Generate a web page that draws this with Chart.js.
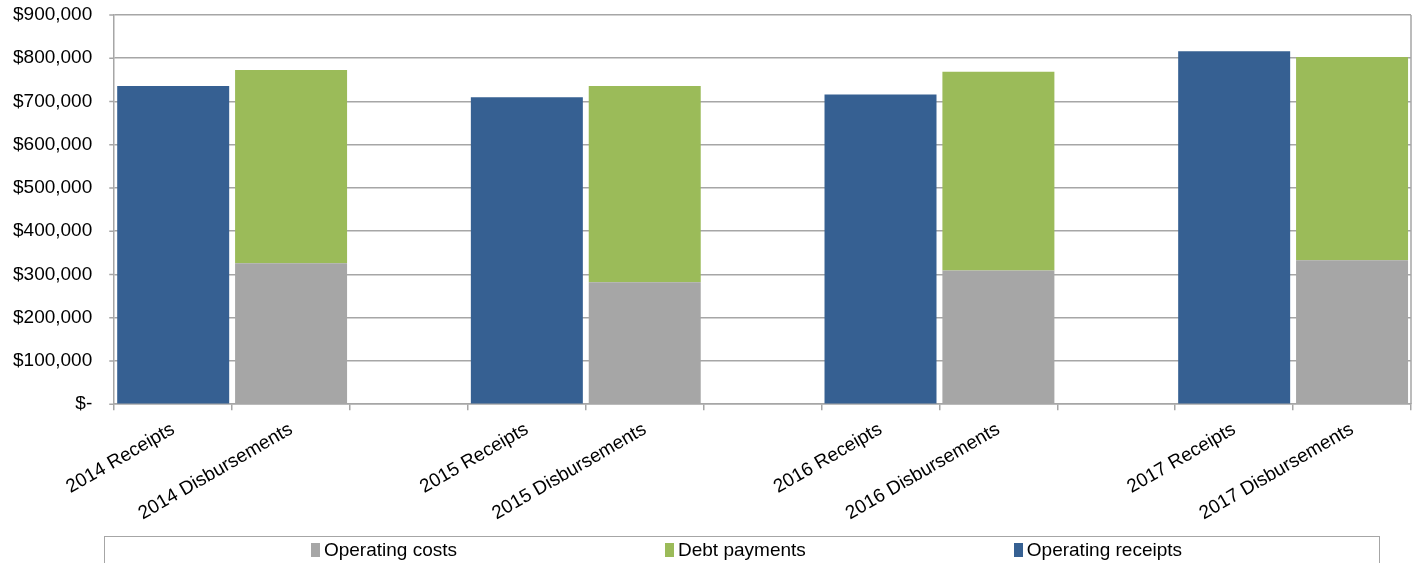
<!DOCTYPE html>
<html>
<head>
<meta charset="utf-8">
<script src="https://cdn.jsdelivr.net/npm/chart.js@4/dist/chart.umd.min.js"></script>
<style>
  html, body { margin: 0; padding: 0; background: #fff; }
  #wrap { position: relative; width: 1418px; height: 563px; overflow: hidden; }
  #c { position: absolute; left: 0; top: 0; }
  #legend {
    position: absolute; left: 104px; top: 536px; width: 1276px; height: 40px;
    border: 1px solid #a6a6a6; box-sizing: border-box; padding-left: 9px;
    display: flex; justify-content: center; align-items: flex-start; gap: 208px;
    font-family: "Liberation Sans", Arial, sans-serif; font-size: 19px; color: #000;
  }
  #legend .item { display: flex; align-items: center; padding-top: 2px; white-space: nowrap; }
  #legend .sw { width: 9px; height: 14px; margin-right: 4px; display: inline-block; }
</style>
</head>
<body>
<div id="wrap">
  <canvas id="c" width="1418" height="563"></canvas>
  <div id="legend"></div>
</div>
<script>
const categories = ['2014 Receipts', '2014 Disbursements', '', '2015 Receipts', '2015 Disbursements', '', '2016 Receipts', '2016 Disbursements', '', '2017 Receipts', '2017 Disbursements'];
const operatingCosts    = [null, 326000, null, null, 282000, null, null, 309000, null, null, 333000];
const debtPayments      = [null, 447000, null, null, 454000, null, null, 460000, null, null, 470000];
const operatingReceipts = [736000, null, null, 710000, null, null, 716000, null, null, 816000, null];
const yTicks = [0, 100000, 200000, 300000, 400000, 500000, 600000, 700000, 800000, 900000];

const FONT = '"Liberation Sans", Arial, sans-serif';
const GRID = '#a6a6a6';

const frame = {
  id: 'frame',
  afterDraw(chart) {
    const { ctx, chartArea, scales } = chart;
    ctx.save();
    ctx.strokeStyle = GRID;
    ctx.lineWidth = 1.5;
    ctx.beginPath();
    ctx.moveTo(chartArea.right, chartArea.top);
    ctx.lineTo(chartArea.right, chartArea.bottom);
    scales.y.ticks.forEach(t => {
      const y = scales.y.getPixelForValue(t.value);
      ctx.moveTo(chartArea.left - 5, y);
      ctx.lineTo(chartArea.left, y);
    });
    ctx.stroke();
    ctx.restore();
  }
};

const htmlLegend = {
  id: 'htmlLegend',
  afterUpdate(chart) {
    const el = document.getElementById('legend');
    el.innerHTML = '';
    chart.data.datasets.forEach(ds => {
      const item = document.createElement('div');
      item.className = 'item';
      const sw = document.createElement('span');
      sw.className = 'sw';
      sw.style.background = ds.backgroundColor;
      const t = document.createElement('span');
      t.textContent = ds.label;
      item.appendChild(sw);
      item.appendChild(t);
      el.appendChild(item);
    });
  }
};

new Chart(document.getElementById('c'), {
  type: 'bar',
  data: {
    labels: categories,
    datasets: [
      { label: 'Operating costs', data: operatingCosts, backgroundColor: '#A6A6A6' },
      { label: 'Debt payments', data: debtPayments, backgroundColor: '#9BBB59' },
      { label: 'Operating receipts', data: operatingReceipts, backgroundColor: '#366092' }
    ]
  },
  options: {
    responsive: false,
    animation: false,
    devicePixelRatio: 1,
    layout: { padding: { left: 11, right: 7, top: 15, bottom: 30 } },
    datasets: { bar: { barPercentage: 0.95, categoryPercentage: 1.0, skipNull: true } },
    plugins: { legend: { display: false }, tooltip: { enabled: false } },
    scales: {
      x: {
        stacked: true,
        grid: { offset: true, drawOnChartArea: false, drawTicks: true, tickLength: 6, color: GRID, lineWidth: 1.5 },
        border: { color: GRID, width: 1.5 },
        ticks: {
          autoSkip: false, minRotation: 30, maxRotation: 30, padding: 8,
          color: '#000', font: { family: FONT, size: 19 }
        }
      },
      y: {
        stacked: true,
        min: 0, max: 900000,
        afterBuildTicks(axis) { axis.ticks = yTicks.map(v => ({ value: v })); },
        grid: { color: GRID, lineWidth: 1.5, tickLength: 20, tickColor: 'rgba(0,0,0,0)' },
        border: { color: GRID, width: 1.5 },
        ticks: {
          padding: 2, color: '#000', font: { family: FONT, size: 19 },
          callback: v => v === 0 ? '$-' : '$' + Number(v).toLocaleString('en-US')
        }
      }
    }
  },
  plugins: [frame, htmlLegend]
});
</script>
</body>
</html>
